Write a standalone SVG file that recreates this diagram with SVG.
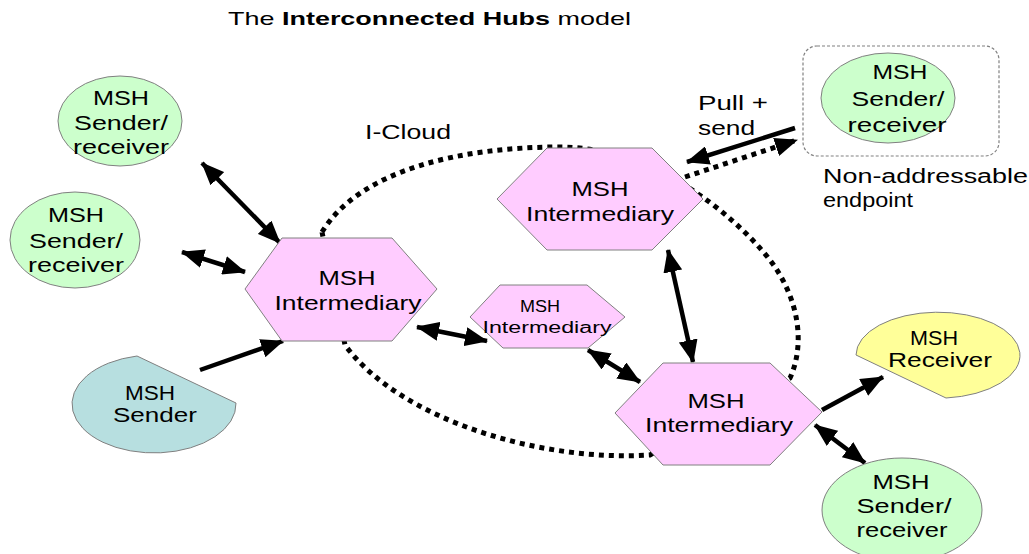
<svg xmlns="http://www.w3.org/2000/svg" width="1029" height="554" viewBox="0 0 1029 554">
  <defs>
    <style>
      .t { font-family: "Liberation Sans", Arial, sans-serif; fill: #000; }
      .lbl { font-size: 21px; text-anchor: middle; }
      .sm { font-size: 16px; text-anchor: middle; }
      .green { fill: #ccffcc; stroke: #808080; stroke-width: 1; }
      .pink { fill: #ffccff; stroke: #808080; stroke-width: 1; }
      .yellow { fill: #ffff99; stroke: #808080; stroke-width: 1; }
      .blue { fill: #b7dfe0; stroke: #808080; stroke-width: 1; }
      .cloud { fill: none; stroke: #000; stroke-width: 5; stroke-dasharray: 5 5; }
      .arr { fill: none; stroke: #000; stroke-width: 4.5; }
      .one { marker-end: url(#head); }
      .two { marker-start: url(#head); marker-end: url(#head); }
      .dot { fill: none; stroke: #000; stroke-width: 5; stroke-dasharray: 5 5; marker-end: url(#head); }
    </style>
    <marker id="head" viewBox="0 0 23 19" refX="22" refY="9.5" markerWidth="23" markerHeight="19" markerUnits="userSpaceOnUse" orient="auto-start-reverse">
      <path d="M0,0 L23,9.5 L0,19 Z" fill="#000"/>
    </marker>
  </defs>

  <!-- title -->
  <text class="t" x="228" y="25" font-size="19" textLength="403" lengthAdjust="spacingAndGlyphs">The <tspan font-weight="bold">Interconnected Hubs</tspan> model</text>

  <!-- the I-Cloud boundary -->
  <path class="cloud" d="M322,232 C360,170 460,147 560,147 C650,147 730,210 770,260 C800,300 805,345 790,378 L650,455 C540,462 400,420 345,345 L322,232"/>
  <text class="t" x="365" y="139" font-size="20" textLength="86" lengthAdjust="spacingAndGlyphs">I-Cloud</text>

  <!-- connectors -->
  <g id="connectors">
    <line class="arr two" x1="202" y1="163" x2="280" y2="243"/>
    <line class="arr two" x1="182" y1="252" x2="245" y2="272"/>
    <line class="arr one" x1="200" y1="370" x2="283" y2="341"/>
    <line class="arr two" x1="417" y1="327" x2="487" y2="341"/>
    <line class="arr two" x1="588" y1="350" x2="640" y2="382"/>
    <line class="arr two" x1="668" y1="250" x2="693" y2="362"/>
    <line class="arr one" x1="822" y1="410" x2="883" y2="377"/>
    <line class="arr two" x1="815" y1="425" x2="865" y2="463"/>
    <line class="arr one" x1="795" y1="128" x2="687" y2="162"/>
    <line class="dot" x1="685" y1="177" x2="797" y2="140"/>
  </g>
  <text class="t" x="698" y="110" font-size="20" textLength="70" lengthAdjust="spacingAndGlyphs">Pull +</text>
  <text class="t" x="698" y="135" font-size="20" textLength="57" lengthAdjust="spacingAndGlyphs">send</text>

  <!-- endpoints on the left -->
  <g id="sr-top-left">
    <ellipse class="green" cx="120" cy="121" rx="62" ry="45"/>
    <text class="t lbl" x="121" y="105" textLength="56" lengthAdjust="spacingAndGlyphs">MSH</text>
    <text class="t lbl" x="121" y="130" textLength="94" lengthAdjust="spacingAndGlyphs">Sender/</text>
    <text class="t lbl" x="121" y="154" textLength="96" lengthAdjust="spacingAndGlyphs">receiver</text>
  </g>
  <g id="sr-left">
    <ellipse class="green" cx="75" cy="240" rx="65" ry="48"/>
    <text class="t lbl" x="76" y="222" textLength="56" lengthAdjust="spacingAndGlyphs">MSH</text>
    <text class="t lbl" x="76" y="248" textLength="94" lengthAdjust="spacingAndGlyphs">Sender/</text>
    <text class="t lbl" x="76" y="272" textLength="96" lengthAdjust="spacingAndGlyphs">receiver</text>
  </g>
  <g id="sender">
    <path class="blue" d="M137,356 L236,403 A82,49 0 1 1 137,356 Z"/>
    <text class="t lbl" x="150" y="400" textLength="50" lengthAdjust="spacingAndGlyphs">MSH</text>
    <text class="t lbl" x="155" y="422" textLength="84" lengthAdjust="spacingAndGlyphs">Sender</text>
  </g>

  <!-- intermediaries -->
  <g id="hub-left">
    <polygon class="pink" points="245,289 282,238 392,238 437,289 392,341 282,341"/>
    <text class="t lbl" x="347" y="285" textLength="57" lengthAdjust="spacingAndGlyphs">MSH</text>
    <text class="t lbl" x="348" y="310" textLength="147" lengthAdjust="spacingAndGlyphs">Intermediary</text>
  </g>
  <g id="hub-middle">
    <polygon class="pink" points="470,317 500,285 587,285 625,317 588,348 503,348"/>
    <text class="t sm" x="540" y="312" textLength="40" lengthAdjust="spacingAndGlyphs">MSH</text>
    <text class="t sm" x="547" y="333" textLength="129" lengthAdjust="spacingAndGlyphs">Intermediary</text>
  </g>
  <g id="hub-top">
    <polygon class="pink" points="497,199 547,148 652,148 703,199 652,250 547,250"/>
    <text class="t lbl" x="600" y="196" textLength="57" lengthAdjust="spacingAndGlyphs">MSH</text>
    <text class="t lbl" x="600" y="221" textLength="148" lengthAdjust="spacingAndGlyphs">Intermediary</text>
  </g>
  <g id="hub-bottom">
    <polygon class="pink" points="615,413 663,363 770,363 822,412 770,465 663,465"/>
    <text class="t lbl" x="716" y="408" textLength="57" lengthAdjust="spacingAndGlyphs">MSH</text>
    <text class="t lbl" x="719" y="432" textLength="148" lengthAdjust="spacingAndGlyphs">Intermediary</text>
  </g>

  <!-- endpoints on the right -->
  <g id="sr-non-addressable">
    <rect x="803" y="46" width="196" height="110" rx="14" fill="none" stroke="#808080" stroke-width="1.2" stroke-dasharray="3 2"/>
    <ellipse class="green" cx="888" cy="98" rx="67" ry="45"/>
    <text class="t lbl" x="900" y="79" textLength="55" lengthAdjust="spacingAndGlyphs">MSH</text>
    <text class="t lbl" x="898" y="106" textLength="93" lengthAdjust="spacingAndGlyphs">Sender/</text>
    <text class="t lbl" x="897" y="132" textLength="99" lengthAdjust="spacingAndGlyphs">receiver</text>
    <text class="t" x="823" y="183" font-size="20" textLength="205" lengthAdjust="spacingAndGlyphs">Non-addressable</text>
    <text class="t" x="823" y="207" font-size="20" textLength="90" lengthAdjust="spacingAndGlyphs">endpoint</text>
  </g>
  <g id="receiver">
    <path class="yellow" d="M856,355 A82,43 0 1 1 946,398 Z"/>
    <text class="t lbl" x="934" y="345" textLength="48" lengthAdjust="spacingAndGlyphs">MSH</text>
    <text class="t lbl" x="940" y="367" textLength="104" lengthAdjust="spacingAndGlyphs">Receiver</text>
  </g>
  <g id="sr-bottom-right">
    <ellipse class="green" cx="902" cy="510" rx="80" ry="52"/>
    <text class="t lbl" x="901" y="489" textLength="57" lengthAdjust="spacingAndGlyphs">MSH</text>
    <text class="t lbl" x="904" y="513" textLength="95" lengthAdjust="spacingAndGlyphs">Sender/</text>
    <text class="t lbl" x="902" y="537" textLength="91" lengthAdjust="spacingAndGlyphs">receiver</text>
  </g>
</svg>
